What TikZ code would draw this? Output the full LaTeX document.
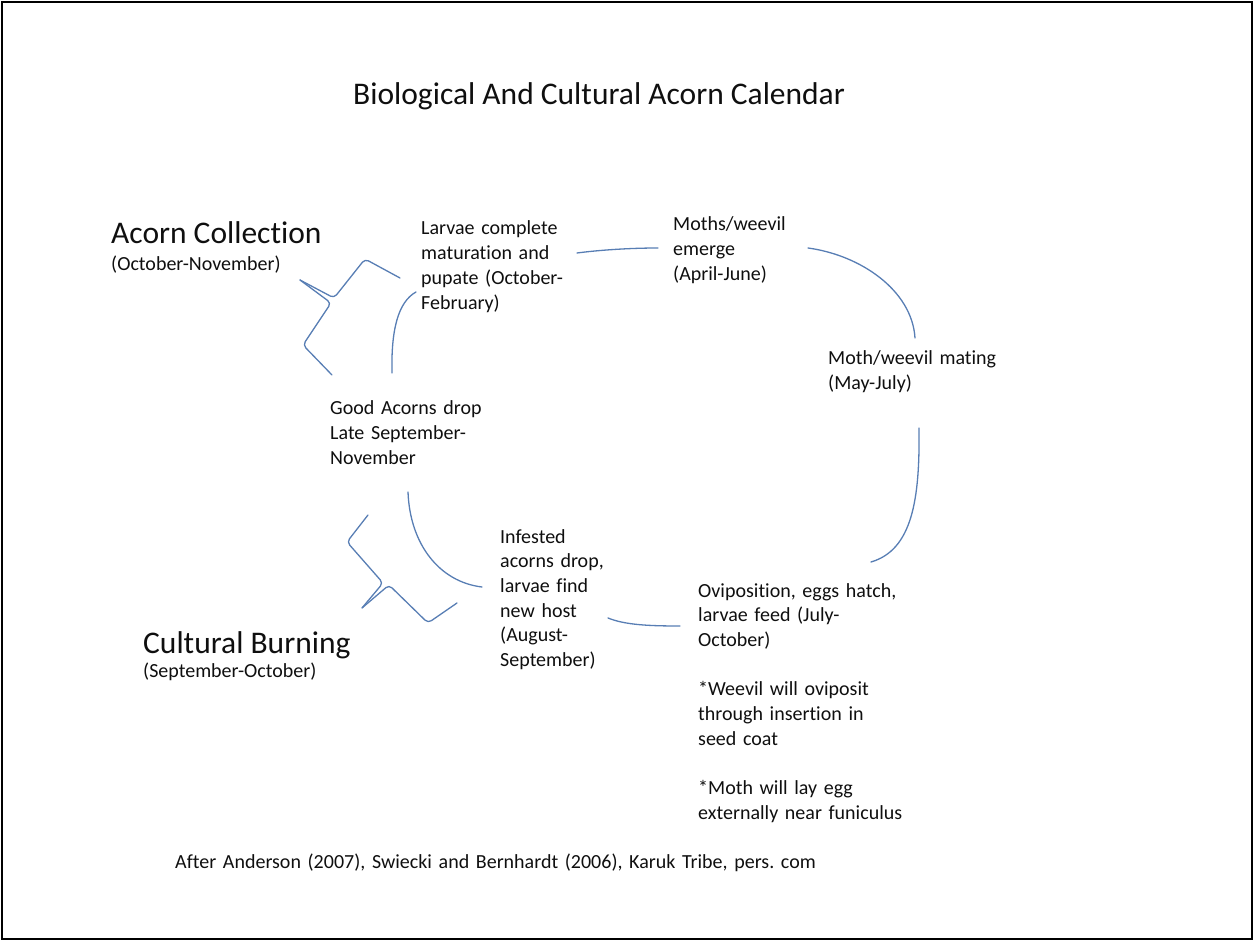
\documentclass[tikz,border=0pt]{standalone}
\usepackage{fontspec}
\setmainfont{Carlito}[Ligatures={NoCommon,NoRare,NoContextual}, Contextuals=NoAlternate, RawFeature={-liga;-clig;-calt;-dlig}]
\frenchspacing
\definecolor{linkblue}{RGB}{88,126,180}
\definecolor{txt}{RGB}{15,15,15}
\tikzset{
  body/.style={anchor=base west, inner sep=0pt, align=left, text width=320pt, text=txt, font=\fontsize{20}{24.7}\selectfont},
  head/.style={anchor=base west, inner sep=0pt, text=txt, font=\fontsize{31.5}{36}\selectfont},
  link/.style={draw=linkblue, line width=1.3pt, line cap=round, line join=round},
  bracepath/.style={link, rounded corners=4pt}
}
\begin{document}
\begin{tikzpicture}[x=1pt,y=-1pt]
\useasboundingbox (0,0) rectangle (1254,941);
\draw[line width=1.5pt] (2,2) rectangle (1252,939);

% texts
\node[head] (title) at (353,105) {Biological And Cultural Acorn Calendar};
\node[head] (acoll) at (111,244) {Acorn Collection};
\node[body] (acolld) at (111,271) {(October-November)};
\node[head] (cburn) at (143,653) {Cultural Burning};
\node[body] (cburnd) at (143,677) {(September-October)};
\node[body] (larvae) at (421,235) {Larvae complete\\maturation and\\pupate (October-\\February)};
\node[body] (moths) at (673,231) {Moths/weevil\\emerge\\(April-June)};
\node[body] (mating) at (828,365) {Moth/weevil mating\\(May-July)};
\node[body] (good) at (330,415) {Good Acorns drop\\Late September-\\November};
\node[body] (infest) at (500,543) {Infested\\acorns drop,\\larvae find\\new host\\(August-\\September)};
\node[body] (ovi) at (698,597) {Oviposition, eggs hatch,\\larvae feed (July-\\October)\\[24.7pt]*Weevil will oviposit\\through insertion in\\seed coat\\[24.7pt]*Moth will lay egg\\externally near funiculus};
\node[body, text width=800pt] (foot) at (175,868) {After Anderson (2007), Swiecki and Bernhardt (2006), Karuk Tribe, pers. com};

% connector end points
\coordinate (l1) at (577,253);
\coordinate (m1) at (658,248);
\coordinate (m2) at (808,248);
\coordinate (t1) at (915,338);
\coordinate (t2) at (919,428);
\coordinate (o1) at (871,562);
\coordinate (g1) at (392,373);
\coordinate (l2) at (416,292);
\coordinate (g2) at (408,492);
\coordinate (i1) at (482,587);
\coordinate (i2) at (608,618);
\coordinate (o2) at (680,626);

\draw[link] (l1) .. controls (600,250) and (630,248) .. (m1);
\draw[link] (m2) .. controls (860,255) and (912,290) .. (t1);
\draw[link] (t2) .. controls (920,500) and (912,550) .. (o1);
\draw[link] (g1) .. controls (391,330) and (398,302) .. (l2);
\draw[link] (g2) .. controls (410,545) and (440,582) .. (i1);
\draw[link] (i2) .. controls (625,625) and (650,626) .. (o2);

% brace for Acorn Collection
\coordinate (ba1) at (400,278);
\coordinate (batip) at (300,280);
\coordinate (ba2) at (332,375);
\draw[bracepath] (ba1) -- (365,259) -- (334,298) -- (batip);
\draw[bracepath] (batip) -- (331,303) -- (303,345) -- (ba2);

% brace for Cultural Burning
\coordinate (bb1) at (368,515);
\coordinate (bbtip) at (362,608);
\coordinate (bb2) at (457,603);
\draw[bracepath] (bb1) -- (347,542) -- (383,583) -- (bbtip);
\draw[bracepath] (bbtip) -- (389,585) -- (428,623) -- (bb2);
\end{tikzpicture}
\end{document}
